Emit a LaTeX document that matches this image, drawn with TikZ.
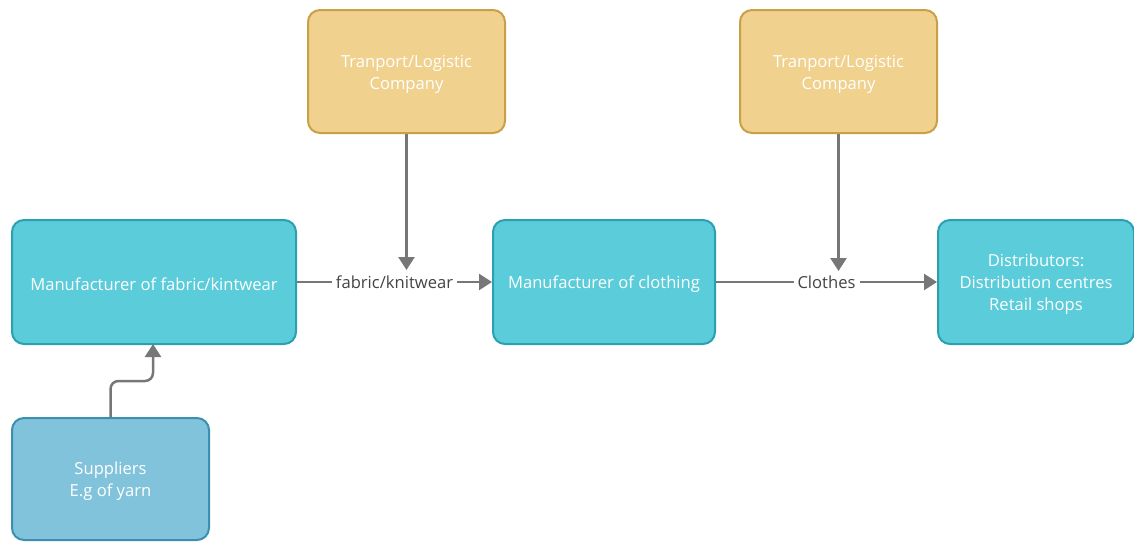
\documentclass[tikz,border=0pt]{standalone}
\usepackage{fontspec}
\setmainfont{Open Sans}
\usetikzlibrary{arrows.meta}
\definecolor{tanfill}{HTML}{F0D18E}
\definecolor{tanline}{HTML}{C9A048}
\definecolor{cyanfill}{HTML}{5BCCDA}
\definecolor{cyanline}{HTML}{2AA0B0}
\definecolor{bluefill}{HTML}{82C3DC}
\definecolor{blueline}{HTML}{3A90AE}
\definecolor{linkgray}{HTML}{777777}
\definecolor{labelgray}{HTML}{444444}
\tikzset{
  box/.style={rounded corners=12pt, line width=2pt, inner sep=0pt},
  boxtext/.style={label={[align=center, text=white, font=\fontsize{16.6}{22}\selectfont,
    inner sep=0pt, yshift=-2.5pt]center:#1}},
  tanbox/.style={box, fill=tanfill, draw=tanline, minimum width=197pt, minimum height=123pt},
  cyanbox/.style={box, fill=cyanfill, draw=cyanline, minimum height=124pt},
  bluebox/.style={box, fill=bluefill, draw=blueline, minimum width=197pt, minimum height=122pt},
  link/.style={draw=linkgray, line width=2.5pt,
    -{Triangle[length=13pt, width=16pt, fill=linkgray]}},
  linklabel/.style={fill=white, text=labelgray, font=\fontsize{16.6}{20}\selectfont,
    inner xsep=4pt, inner ysep=2pt}
}
\begin{document}
\begin{tikzpicture}[x=1pt, y=-1pt]
  \useasboundingbox (0,0) rectangle (1134,541);

  % upper row: carriers
  \node[tanbox, boxtext={Tranport/Logistic\\Company}] (t1) at (406.5,71.5) {};
  \node[tanbox, boxtext={Tranport/Logistic\\Company}] (t2) at (838.5,71.5) {};

  % main chain
  \node[cyanbox, minimum width=284pt, boxtext={Manufacturer of fabric/kintwear}] (fab) at (154,282) {};
  \node[cyanbox, minimum width=222pt, boxtext={Manufacturer of clothing}] (clo) at (604,282) {};
  \node[cyanbox, minimum width=196pt,
        boxtext={Distributors:\\Distribution centres\\Retail shops}] (dist) at (1036,282) {};

  % raw material supply
  \node[bluebox, boxtext={Suppliers\\E.g of yarn}] (sup) at (110.5,479) {};

  % flows along the chain
  \draw[link] (fab.east) -- node[linklabel] (l1) {fabric/knitwear} (clo.west);
  \draw[link] (clo.east) -- node[linklabel] (l2) {Clothes} (dist.west);

  % carriers feeding the flows
  \coordinate (p1) at (406.5,270);
  \coordinate (p2) at (838.5,271);
  \draw[link] (t1.south) -- (p1);
  \draw[link] (t2.south) -- (p2);

  % supplier link with a jog
  \draw[link, rounded corners=8pt] (sup.north) -- (110.5,381) -- (153,381) -- (153,344);
\end{tikzpicture}
\end{document}
